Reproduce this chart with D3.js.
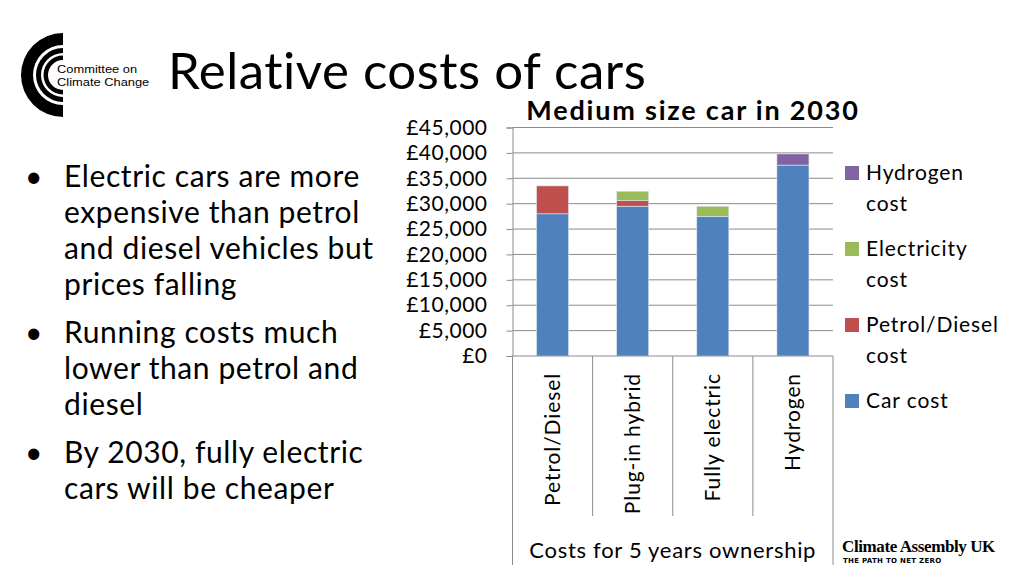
<!DOCTYPE html>
<html>
<head>
<meta charset="utf-8">
<script src="https://cdn.jsdelivr.net/npm/d3@7"></script>
<style>
  html, body { margin: 0; padding: 0; background: #fff; }
  svg { display: block; font-family: Lato, "Open Sans", sans-serif; font-variant-ligatures: none; }
</style>
</head>
<body>
<svg id="slide" width="1024" height="576"></svg>
<script>
// ------------------------------
// DONNEES
// ------------------------------
const categories = ["Petrol/Diesel", "Plug-in hybrid", "Fully electric", "Hydrogen"];
const carCost = [28000, 29500, 27500, 37600];
const petrolDieselCost = [5500, 1100, 0, 0];
const electricityCost = [0, 1850, 2000, 0];
const hydrogenCost = [0, 0, 0, 2200];
const seriesNames = ["Car cost", "Petrol/Diesel cost", "Electricity cost", "Hydrogen cost"];
const seriesColors = ["#4F81BD", "#C0504D", "#9BBB59", "#8064A2"];
const yTicks = [0, 5000, 10000, 15000, 20000, 25000, 30000, 35000, 40000, 45000];
const bullets = [
  ["Electric cars are more", "expensive than petrol", "and diesel vehicles but", "prices falling"],
  ["Running costs much", "lower than petrol and", "diesel"],
  ["By 2030, fully electric", "cars will be cheaper"]
];

const svg = d3.select("#slide");

// ------------------------------
// LOGO + TITRE
// ------------------------------
const logo = svg.append("g").attr("transform", "translate(63,75)");
[[30, 42], [22, 27], [15, 19.5]].forEach(([r0, r1]) => {
  logo.append("path")
    .attr("d", d3.arc().innerRadius(r0).outerRadius(r1).startAngle(Math.PI).endAngle(2 * Math.PI)())
    .attr("fill", "#000");
});
["Committee on", "Climate Change"].forEach((t, i) => {
  logo.append("text").attr("transform", `translate(-6,${-2 + i * 12.5}) scale(1.17,1)`)
    .attr("font-size", 11).attr("font-family", "'Liberation Sans', Arial, sans-serif").text(t);
});

svg.append("text").attr("x", 168).attr("y", 89).attr("font-size", 51).attr("letter-spacing", 0.5)
  .text("Relative costs of cars");

// ------------------------------
// PUCES
// ------------------------------
const bulletTops = [187, 343, 463];
bullets.forEach((lines, i) => {
  svg.append("text").attr("x", 25).attr("y", bulletTops[i]).attr("font-size", 30).text("•");
  lines.forEach((l, j) => {
    svg.append("text").attr("x", 64).attr("y", bulletTops[i] + j * 36)
      .attr("font-size", 30).attr("letter-spacing", 0.6).text(l);
  });
});

// ------------------------------
// GRAPHIQUE
// ------------------------------
const plotL = 512.5, plotR = 833, plotT = 127.5, plotB = 356;
const x = d3.scaleBand().domain(categories).range([plotL, plotR]).paddingInner(0).paddingOuter(0);
const y = d3.scaleLinear().domain([0, 45000]).range([plotB, plotT]);

svg.append("text").attr("x", 693).attr("y", 120).attr("text-anchor", "middle")
  .attr("font-size", 27).attr("letter-spacing", 1.8).attr("font-weight", "bold")
  .text("Medium size car in 2030");

// gridlines
svg.append("g").selectAll("line").data(yTicks.filter(d => d > 0)).join("line")
  .attr("x1", plotL).attr("x2", plotR).attr("y1", d => y(d)).attr("y2", d => y(d))
  .attr("stroke", "#8c8c8c").attr("stroke-width", 1);

// axe Y
const yAxis = svg.append("g").attr("transform", `translate(${plotL},0)`)
  .call(d3.axisLeft(y).tickValues(yTicks).tickSize(6).tickPadding(19)
    .tickFormat(d => "£" + d3.format(",")(d)));
yAxis.select(".domain").attr("stroke", "#8c8c8c");
yAxis.selectAll(".tick line").attr("stroke", "#8c8c8c");
yAxis.selectAll("text").attr("font-size", 21).attr("letter-spacing", 0.5)
  .attr("font-family", "Lato, sans-serif").attr("fill", "#000");

// barres empilees
const table = categories.map((c, i) => ({
  cat: c,
  "Car cost": carCost[i],
  "Petrol/Diesel cost": petrolDieselCost[i],
  "Electricity cost": electricityCost[i],
  "Hydrogen cost": hydrogenCost[i]
}));
const stacked = d3.stack().keys(seriesNames)(table);
const barW = x.bandwidth() * 0.4;
svg.append("g").selectAll("g").data(stacked).join("g")
  .attr("fill", (d, i) => seriesColors[i])
  .selectAll("rect").data(d => d.filter(s => s[1] > s[0])).join("rect")
  .attr("x", d => x(d.data.cat) + (x.bandwidth() - barW) / 2)
  .attr("width", barW)
  .attr("y", d => y(d[1]))
  .attr("height", d => y(d[0]) - y(d[1]))
  .attr("stroke", "#dfe7f2").attr("stroke-width", 0.6);

// axe X a deux niveaux
svg.append("line").attr("x1", plotL).attr("x2", plotR).attr("y1", plotB).attr("y2", plotB)
  .attr("stroke", "#8c8c8c");
const bounds = categories.map(c => x(c)).concat([plotR]);
svg.append("g").selectAll("line").data(bounds).join("line")
  .attr("x1", d => d).attr("x2", d => d)
  .attr("y1", plotB)
  .attr("y2", (d, i) => (i === 0 || i === bounds.length - 1) ? 565 : 516)
  .attr("stroke", "#8c8c8c");
svg.append("g").selectAll("text").data(categories).join("text")
  .attr("transform", d => `translate(${x(d) + x.bandwidth() / 2 + 7},373) rotate(-90)`)
  .attr("text-anchor", "end").attr("font-size", 21).attr("letter-spacing", 0.9).text(d => d);
svg.append("text").attr("x", (plotL + plotR) / 2).attr("y", 558).attr("text-anchor", "middle")
  .attr("font-size", 22).attr("letter-spacing", 0.7).text("Costs for 5 years ownership");

// legende
const legendOrder = [3, 2, 1, 0];
const leg = svg.append("g").selectAll("g").data(legendOrder).join("g")
  .attr("transform", (d, i) => `translate(845,${173 + i * 76})`);
leg.append("rect").attr("x", 0).attr("y", -7).attr("width", 14).attr("height", 14)
  .attr("fill", d => seriesColors[d]);
leg.each(function (d) {
  const parts = seriesNames[d] === "Car cost" ? ["Car cost"] : [seriesNames[d].replace(" cost", ""), "cost"];
  const g = d3.select(this);
  parts.forEach((p, j) => g.append("text").attr("x", 21).attr("y", 7 + j * 31)
    .attr("font-size", 21).attr("letter-spacing", 0.9).text(p));
});

// logo Climate Assembly UK
svg.append("text").attr("x", 842).attr("y", 552).attr("font-size", 17).attr("font-weight", "bold")
  .attr("font-family", "'Liberation Serif', 'DejaVu Serif', serif").attr("letter-spacing", -0.4)
  .text("Climate Assembly UK");
svg.append("text").attr("x", 843).attr("y", 563).attr("font-size", 7).attr("font-weight", "bold")
  .attr("letter-spacing", 0.3).attr("font-family", "'DejaVu Sans', sans-serif").text("THE PATH TO NET ZERO");
</script>
</body>
</html>
